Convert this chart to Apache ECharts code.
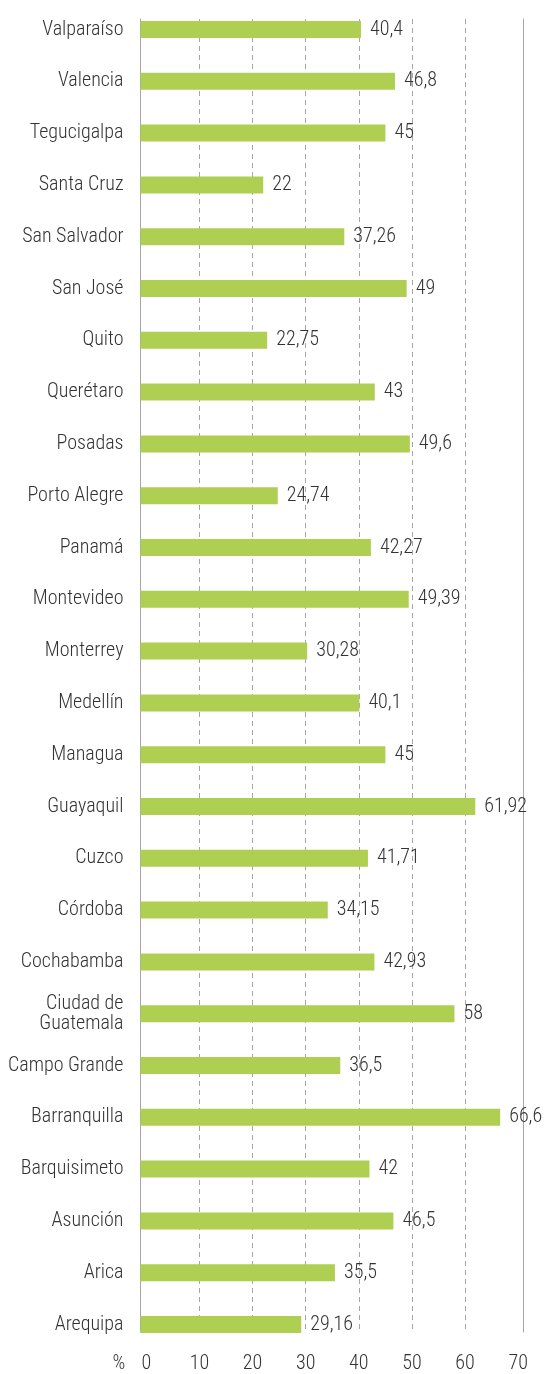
<!DOCTYPE html>
<html>
<head>
<meta charset="utf-8">
<script src="https://cdn.jsdelivr.net/npm/echarts@6/dist/echarts.min.js"></script>
<style>
  html, body { margin: 0; padding: 0; background: #ffffff; }
  #chart { width: 545px; height: 1374px; }
</style>
</head>
<body>
<div id="chart"></div>
<script>
// Cities, top to bottom
const cities = [
  'Valparaíso', 'Valencia', 'Tegucigalpa', 'Santa Cruz', 'San Salvador', 'San José',
  'Quito', 'Querétaro', 'Posadas', 'Porto Alegre', 'Panamá', 'Montevideo', 'Monterrey',
  'Medellín', 'Managua', 'Guayaquil', 'Cuzco', 'Córdoba', 'Cochabamba',
  'Ciudad de\nGuatemala', 'Campo Grande', 'Barranquilla', 'Barquisimeto', 'Asunción',
  'Arica', 'Arequipa'
];
// Percentage per city
const values = [
  40.4, 46.8, 45, 22, 37.26, 49,
  22.75, 43, 49.6, 24.74, 42.27, 49.39, 30.28,
  40.1, 45, 61.92, 41.71, 34.15, 42.93,
  58, 36.5, 66.6, 42, 46.5,
  35.5, 29.16
];
// Scale ticks
const tickMin = 0;
const tickMax = 70;
const tickStep = 10;

const FONT = "'Roboto Condensed', 'Liberation Sans Narrow', 'Roboto', sans-serif";
const WEIGHT = 300;
const SIZE = 20;
const TEXT = '#333333';
const AXIS = '#a6a6a6';

const chart = echarts.init(document.getElementById('chart'), null, { renderer: 'canvas' });

chart.setOption({
  animation: false,
  backgroundColor: '#ffffff',
  grid: [
    // frame: scale, dashed grid lines
    { left: 146.3, right: 26.8, top: 19, bottom: 42 },
    // bars and city names
    { left: 140.5, right: 22, top: 29.5, bottom: 49.5 },
    // outer vertical lines
    { left: 140.5, right: 22, top: 19, bottom: 42 }
  ],
  xAxis: [
    {
      gridIndex: 0, type: 'value', min: tickMin, max: tickMax, interval: tickStep,
      name: '%', nameLocation: 'start', nameGap: 21,
      nameTextStyle: { color: TEXT, fontFamily: FONT, fontWeight: WEIGHT, fontSize: SIZE, align: 'right', verticalAlign: 'top', padding: [22, 0, 0, 0] },
      axisLine: { show: false }, axisTick: { show: false },
      axisLabel: { color: TEXT, fontFamily: FONT, fontWeight: WEIGHT, fontSize: SIZE, margin: 22 },
      splitLine: { show: true, showMinLine: false, showMaxLine: false, lineStyle: { color: AXIS, type: [5, 4], width: 1 } }
    },
    {
      gridIndex: 1, type: 'value', min: -1.1, max: 70.9, startValue: -1.1,
      show: false, splitLine: { show: false }
    },
    {
      gridIndex: 2, type: 'value', min: 0, max: 1, show: false, splitLine: { show: false }
    }
  ],
  yAxis: [
    {
      gridIndex: 0, type: 'value', min: 0, max: 1, show: false, splitLine: { show: false }
    },
    {
      gridIndex: 1, type: 'category', data: cities, inverse: true, boundaryGap: false,
      axisLine: { show: false }, axisTick: { show: false }, splitLine: { show: false },
      axisLabel: { color: TEXT, fontFamily: FONT, fontWeight: WEIGHT, fontSize: SIZE, lineHeight: 20, margin: 17, align: 'right' }
    },
    {
      gridIndex: 2, type: 'value', min: 0, max: 1, position: 'left',
      axisLine: { show: true, lineStyle: { color: AXIS, width: 1 } },
      axisTick: { show: false }, axisLabel: { show: false }, splitLine: { show: false }
    },
    {
      gridIndex: 2, type: 'value', min: 0, max: 1, position: 'right',
      axisLine: { show: true, lineStyle: { color: AXIS, width: 1 } },
      axisTick: { show: false }, axisLabel: { show: false }, splitLine: { show: false }
    }
  ],
  series: [
    {
      type: 'bar', xAxisIndex: 1, yAxisIndex: 1,
      data: values, barWidth: 17,
      itemStyle: { color: '#afcf53' },
      label: {
        show: true, position: 'right', distance: 9,
        color: TEXT, fontFamily: FONT, fontWeight: WEIGHT, fontSize: SIZE,
        formatter: p => String(p.value).replace('.', ',')
      }
    }
  ]
});
</script>
</body>
</html>
